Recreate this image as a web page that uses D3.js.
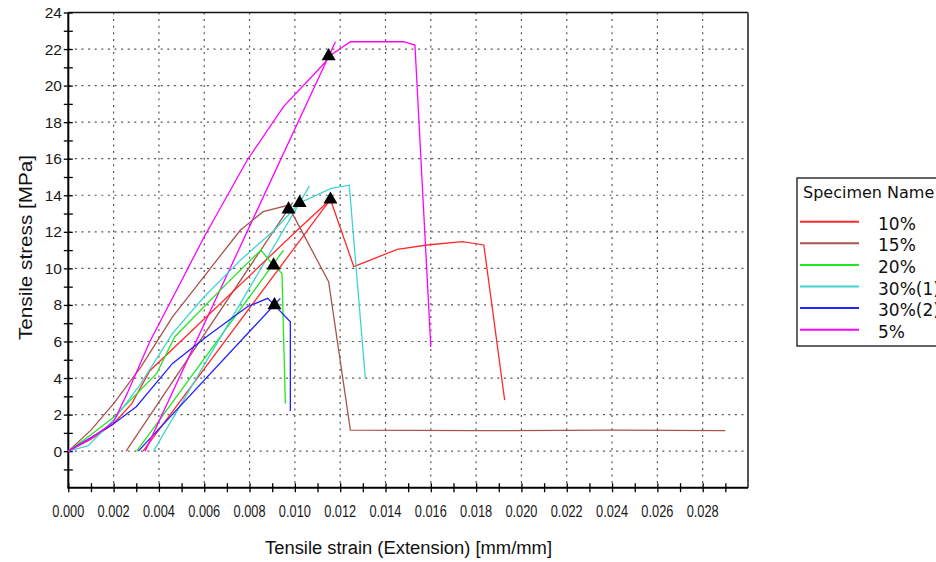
<!DOCTYPE html>
<html>
<head>
<meta charset="utf-8">
<script src="https://cdn.jsdelivr.net/npm/d3@7"></script>
<style>
  body { margin: 0; background: #fff; }
  svg { display: block; }
</style>
</head>
<body>
<svg width="936" height="562"></svg>
<script>
// specimen names and colours (legend order)
var names = ["10%", "15%", "20%", "30%(1)", "30%(2)", "5%"];
var colors = ["#ff2a2a", "#a8544e", "#22e622", "#40d4d0", "#2222ff", "#ff00ff"];

// test curves [strain, stress]
var curve10 = [[0, 0], [0.001, 0.65], [0.002, 1.5], [0.0028, 2.6], [0.0036, 4.4], [0.0102, 12.2],
  [0.01157, 13.77], [0.0126, 10.1], [0.01452, 11.04], [0.01584, 11.28], [0.01739, 11.46],
  [0.01834, 11.28], [0.01926, 2.79]];
var curve15 = [[0, 0], [0.001, 1.15], [0.002, 2.6], [0.0032, 4.6], [0.0046, 7.35], [0.0061, 9.73],
  [0.0076, 12.1], [0.0086, 13.1], [0.0097, 13.45], [0.01149, 9.27], [0.01245, 1.15],
  [0.018, 1.12], [0.024, 1.15], [0.029, 1.12]];
var curve20 = [[0, 0], [0.001, 0.9], [0.002, 1.85], [0.0039, 4.25], [0.0047, 6.26], [0.007, 9.18],
  [0.0085, 11.0], [0.00906, 10.16], [0.00943, 9.73], [0.00958, 2.6]];
var curve30a = [[0, 0], [0.00088, 0.3], [0.002, 1.7], [0.0032, 3.7], [0.0046, 6.44], [0.006, 8.45],
  [0.0076, 10.45], [0.0091, 12.1], [0.0102, 13.58], [0.0116, 14.38], [0.0124, 14.55], [0.01311, 3.98]];
var curve30b = [[0, 0], [0.001, 0.75], [0.002, 1.5], [0.003, 2.43], [0.0046, 4.8], [0.0061, 6.26],
  [0.0079, 7.9], [0.0088, 8.36], [0.0091, 7.99], [0.0098, 7.08], [0.0098, 2.2]];
var curve5 = [[0, 0], [0.001, 0.7], [0.002, 1.6], [0.0026, 3.16], [0.0036, 6.0], [0.0048, 8.86],
  [0.006, 11.73], [0.0079, 15.93], [0.0095, 18.85], [0.0113, 21.22], [0.0115, 21.6], [0.01245, 22.4],
  [0.0148, 22.4], [0.0153, 22.22], [0.016, 5.7]];

// offset modulus lines [strain, stress]
var offset10 = [[0.0033, 0], [0.01157, 13.77]];
var offset15 = [[0.00255, 0], [0.0099, 13.6]];
var offset20 = [[0.00302, 0], [0.0095, 11.0]];
var offset30a = [[0.00376, 0], [0.01064, 14.5]];
var offset30b = [[0.00309, 0], [0.00936, 8.36]];
var offset5 = [[0.00339, 0], [0.01179, 22.4]];

// break markers
var peaks = [[0.01157, 13.77], [0.00972, 13.23], [0.00906, 10.16], [0.01021, 13.58], [0.0091, 7.99], [0.01149, 21.61]];

var xLabels = d3.range(0, 0.0281, 0.002);
var yLabels = d3.range(0, 24.1, 2);

var curves = [curve10, curve15, curve20, curve30a, curve30b, curve5];
var offsets = [offset10, offset15, offset20, offset30a, offset30b, offset5];

var svg = d3.select("svg");

var x = d3.scaleLinear().domain([0, 0.030]).range([68.3, 748]);
var y = d3.scaleLinear().domain([-2, 24]).range([487.7, 12.5]);

// grid
var grid = svg.append("g")
  .attr("stroke", "#555")
  .attr("stroke-width", 1.2)
  .attr("stroke-dasharray", "2,4.6");

grid.selectAll("line.v")
  .data(xLabels.slice(1))
  .enter()
  .append("line")
  .attr("x1", function (d) { return x(d); })
  .attr("x2", function (d) { return x(d); })
  .attr("y1", y(24))
  .attr("y2", y(-2));

grid.selectAll("line.h")
  .data(yLabels.slice(0, -1))
  .enter()
  .append("line")
  .attr("x1", x(0))
  .attr("x2", x(0.030))
  .attr("y1", function (d) { return y(d); })
  .attr("y2", function (d) { return y(d); });

// frame
svg.append("line").attr("x1", x(0)).attr("x2", x(0.030)).attr("y1", y(24)).attr("y2", y(24))
  .attr("stroke", "#111").attr("stroke-width", 1.5);
svg.append("line").attr("x1", x(0.030)).attr("x2", x(0.030)).attr("y1", y(24)).attr("y2", y(-2))
  .attr("stroke", "#555").attr("stroke-width", 2);

// axes
var xAxis = d3.axisBottom(x)
  .tickValues(d3.range(0, 0.0295, 0.001))
  .tickSize(9)
  .tickFormat("");

var gx = svg.append("g")
  .attr("transform", "translate(0," + (y(-2) - 4.5) + ")")
  .call(xAxis);
gx.select(".domain").remove();
gx.selectAll(".tick line").attr("stroke", "#000").attr("stroke-width", 1.3);

var yAxis = d3.axisLeft(y)
  .tickValues(d3.range(-1, 24.1, 1))
  .tickSize(9)
  .tickFormat("");

var gy = svg.append("g")
  .attr("transform", "translate(" + (x(0) + 4.5) + ",0)")
  .call(yAxis);
gy.select(".domain").remove();
gy.selectAll(".tick line").attr("stroke", "#000").attr("stroke-width", 1.3);

svg.append("line").attr("x1", x(0)).attr("x2", x(0)).attr("y1", y(24)).attr("y2", y(-2))
  .attr("stroke", "#000").attr("stroke-width", 2);
svg.append("line").attr("x1", x(0) - 1).attr("x2", x(0.030)).attr("y1", y(-2)).attr("y2", y(-2))
  .attr("stroke", "#000").attr("stroke-width", 2);

// tick labels
svg.append("g").selectAll("text")
  .data(xLabels)
  .enter()
  .append("text")
  .attr("x", function (d) { return x(d); })
  .attr("y", 516.5)
  .attr("text-anchor", "middle")
  .attr("font-family", "Liberation Sans, Arial, sans-serif")
  .attr("font-size", 17)
  .attr("textLength", 32)
  .attr("lengthAdjust", "spacingAndGlyphs")
  .attr("fill", "#1a1a1a")
  .text(function (d) { return d3.format(".3f")(d); });

svg.append("g").selectAll("text")
  .data(yLabels)
  .enter()
  .append("text")
  .attr("x", 62)
  .attr("y", function (d) { return y(d) + 5.5; })
  .attr("text-anchor", "end")
  .attr("font-family", "Liberation Sans, Arial, sans-serif")
  .attr("font-size", 15.5)
  .attr("fill", "#1a1a1a")
  .text(function (d) { return d; });

// axis titles
svg.append("text")
  .attr("transform", "translate(32,247.5) rotate(-90)")
  .attr("text-anchor", "middle")
  .attr("font-family", "Liberation Sans, Arial, sans-serif")
  .attr("font-size", 18)
  .attr("textLength", 185)
  .attr("lengthAdjust", "spacingAndGlyphs")
  .attr("fill", "#111")
  .text("Tensile stress [MPa]");

svg.append("text")
  .attr("x", 408.5)
  .attr("y", 554)
  .attr("text-anchor", "middle")
  .attr("font-family", "Liberation Sans, Arial, sans-serif")
  .attr("font-size", 18)
  .attr("textLength", 287)
  .attr("lengthAdjust", "spacingAndGlyphs")
  .attr("fill", "#111")
  .text("Tensile strain (Extension) [mm/mm]");

// curves
var line = d3.line()
  .x(function (d) { return x(d[0]); })
  .y(function (d) { return y(d[1]); });

var plot = svg.append("g").attr("fill", "none").attr("stroke-width", 1.3);

plot.selectAll("path.offset")
  .data(offsets)
  .enter()
  .append("path")
  .attr("d", line)
  .attr("stroke", function (d, i) { return colors[i]; });

plot.selectAll("path.curve")
  .data(curves)
  .enter()
  .append("path")
  .attr("d", line)
  .attr("stroke", function (d, i) { return colors[i]; });

svg.append("g").selectAll("path")
  .data(peaks)
  .enter()
  .append("path")
  .attr("d", d3.symbol(d3.symbolTriangle).size(85))
  .attr("transform", function (d) { return "translate(" + x(d[0]) + "," + y(d[1]) + ")"; })
  .attr("fill", "#000");

// legend
var legend = svg.append("g");

legend.append("rect")
  .attr("x", 797)
  .attr("y", 178)
  .attr("width", 200)
  .attr("height", 168)
  .attr("fill", "#fff")
  .attr("stroke", "#333")
  .attr("stroke-width", 1.5);

legend.append("text")
  .attr("x", 803)
  .attr("y", 198)
  .attr("font-family", "DejaVu Sans, sans-serif")
  .attr("font-size", 16)
  .attr("fill", "#111")
  .text("Specimen Name");

var items = legend.selectAll("g.item")
  .data(names)
  .enter()
  .append("g")
  .attr("transform", function (d, i) { return "translate(0," + (221.7 + i * 21.6) + ")"; });

items.append("line")
  .attr("x1", 800)
  .attr("x2", 859)
  .attr("stroke-width", 2)
  .attr("stroke", function (d, i) { return colors[i]; });

items.append("text")
  .attr("x", 878)
  .attr("y", 8)
  .attr("font-family", "DejaVu Sans, sans-serif")
  .attr("font-size", 17)
  .attr("fill", "#111")
  .text(function (d) { return d; });
</script>
</body>
</html>
